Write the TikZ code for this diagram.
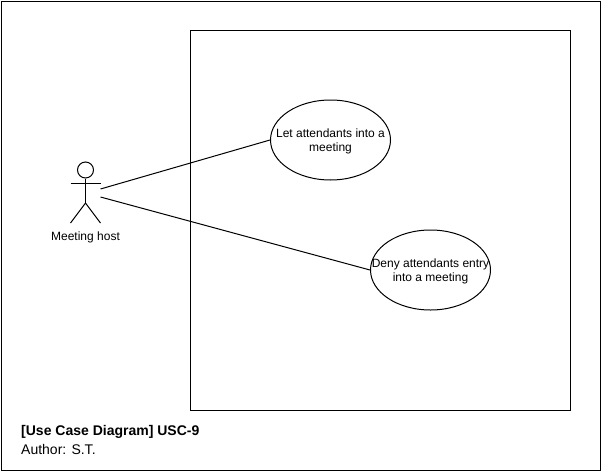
\documentclass[tikz,border=0pt]{standalone}
\usepackage{fontspec}
\setmainfont{Liberation Sans}
\usetikzlibrary{shapes.geometric}
\tikzset{
  line/.style={draw=black,line width=1pt},
  usecase/.style={ellipse,line,minimum width=120pt,minimum height=80pt,inner xsep=-30pt,inner ysep=0pt,align=center,text height=26pt,font=\fontsize{12}{14.4}\selectfont},
  label/.style={inner sep=0pt,font=\fontsize{12}{14.4}\selectfont}
}
\begin{document}
\begin{tikzpicture}[x=1pt,y=-1pt]
\useasboundingbox (0,0) rectangle (601,471);
\fill[white] (0,0) rectangle (601,471);
\node[line,minimum width=599pt,minimum height=469pt,inner sep=0pt,anchor=north west] (frame) at (0.5,0.5) {};
\node[line,minimum width=380pt,minimum height=380pt,inner sep=0pt] (system) at (380.5,220.5) {};
\node[usecase] (uc1) at (330.5,140) {Let attendants into a\\meeting};
\node[usecase] (uc2) at (430.5,270) {Deny attendants entry\\into a meeting};
\node[line,circle,minimum size=16pt,inner sep=0pt] (head) at (85.5,170) {};
\coordinate (hip) at (85.5,203);
\coordinate (armL) at (70.5,183);
\coordinate (armR) at (100.5,183);
\coordinate (legL) at (70.5,223);
\coordinate (legR) at (100.5,223);
\draw[line] (head.south) -- (hip);
\draw[line] (armL) -- (armR);
\draw[line] (legL) -- (hip) -- (legR);
\node[label] (actor) at (85.5,237.5) {Meeting host};
\coordinate (a1) at (100.5,189);
\coordinate (a2) at (100.5,197);
\draw[line] (a1) -- (uc1.west);
\draw[line] (a2) -- (uc2.west);
\node[label,anchor=west,font=\fontsize{14}{16}\selectfont\bfseries] (title) at (21,431.5) {[Use Case Diagram] USC-9};
\node[label,anchor=west,font=\fontsize{14}{16}\selectfont] (author) at (21,449.5) {Author: S.T.};
\end{tikzpicture}
\end{document}
